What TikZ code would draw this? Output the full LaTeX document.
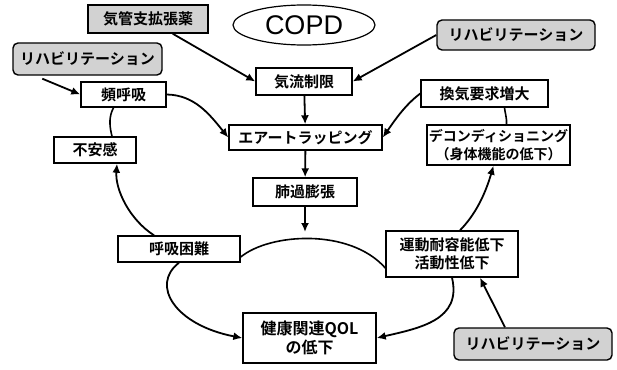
\documentclass[tikz,border=0pt]{standalone}
\usepackage{fontspec}
\setmainfont{Noto Sans CJK JP}[BoldFont={* Bold}]
\newfontfamily\latinfont{Liberation Sans}
\usetikzlibrary{arrows.meta,shapes.geometric}

\tikzset{
  box/.style={draw,line width=1.4pt,inner sep=0pt,align=center,font=\bfseries\fontsize{15}{18}\selectfont},
  rehab/.style={box,rounded corners=5pt,fill=gray!35},
  arr/.style={-{Latex[length=9pt,width=8pt]},line width=1.8pt},
  link/.style={line width=1.6pt}
}

\begin{document}
\begin{tikzpicture}[x=1pt,y=-1pt]
  \useasboundingbox (0,0) rectangle (617,369);
  % top row
  \node[box,fill=gray!35,minimum width=120pt,minimum height=28pt] (drug) at (148,19) {気管支拡張薬};
  \node[draw,ellipse,line width=1.2pt,minimum width=142pt,minimum height=40pt,inner sep=0pt,font=\latinfont\fontsize{27}{30}\selectfont] (copd) at (304,25) {COPD};
  \node[rehab,minimum width=149pt,minimum height=32pt] (rehabA) at (87.5,59) {リハビリテーション};
  \node[rehab,minimum width=158pt,minimum height=30pt] (rehabB) at (516,35) {リハビリテーション};
  % centre column
  \node[box,minimum width=96pt,minimum height=27pt] (airflow) at (304,81.5) {気流制限};
  \node[box,minimum width=153pt,minimum height=25pt] (trap) at (305.5,137.5) {エアートラッピング};
  \node[box,minimum width=104pt,minimum height=28pt] (hyper) at (305,192) {肺過膨張};
  % left side
  \node[box,minimum width=85pt,minimum height=25pt] (tachy) at (123.5,94.5) {頻呼吸};
  \node[box,minimum width=82pt,minimum height=26pt] (anxiety) at (95,150) {不安感};
  \node[box,minimum width=122pt,minimum height=26pt] (dysp) at (179,249) {呼吸困難};
  % right side
  \node[box,minimum width=127pt,minimum height=27pt] (vent) at (484.5,93.5) {換気要求増大};
  \node[box,minimum width=143pt,minimum height=40pt,font=\bfseries\fontsize{14}{18}\selectfont] (decon) at (498.5,145) {デコンディショニング\\（身体機能の低下）};
  \node[box,minimum width=132pt,minimum height=46pt] (exer) at (452,254) {運動耐容能低下\\活動性低下};
  % bottom
  \node[box,minimum width=133pt,minimum height=50pt,font=\bfseries\fontsize{16}{19}\selectfont] (qol) at (309.5,338) {健康関連QOL\\の低下};
  \node[rehab,minimum width=158pt,minimum height=32pt] (rehabC) at (533,344) {リハビリテーション};

  \coordinate (join) at (305,232);

  % straight arrows
  \draw[arr] ([xshift=-36pt]drug.south east) -- (airflow.west);
  \draw[arr] (rehabB.west) -- (airflow.east);
  \draw[arr] ([shift={(30pt,-3pt)}]rehabA.south west) -- (tachy.west);
  \draw[arr] (airflow) -- (trap);
  \draw[arr] (trap) -- (hyper);
  \draw[arr] (hyper) -- (join);
  \draw[arr] ([xshift=-28pt]rehabC.north) -- ([xshift=28pt]exer.south);
  % curved arrows
  \draw[arr] (tachy.east) .. controls (195,95) and (210,115) .. (trap.west);
  \draw[arr] (vent.west) .. controls (405,105) and (395,120) .. (trap.east);
  \draw[arr] ([xshift=-25pt]dysp.north) .. controls (130,220) and (115,190) .. ([xshift=22pt]anxiety.south);
  \draw[arr] ([xshift=8pt]exer.north) .. controls (475,215) and (485,195) .. ([xshift=-5pt]decon.south);
  \draw[arr] (dysp.south) .. controls (150,285) and (175,325) .. (qol.west);
  \draw[arr] (exer.south) .. controls (462,320) and (420,328) .. (qol.east);
  % plain links
  \draw[link] ([xshift=-10pt]tachy.south) .. controls (108,118) and (110,128) .. ([xshift=17pt]anxiety.north);
  \draw[link] ([xshift=20pt]vent.south) .. controls (505,113) and (507,118) .. ([xshift=8pt]decon.north);
  \draw[link] ([yshift=-8pt]dysp.east) .. controls (270,233) and (350,228) .. ([yshift=-14pt]exer.west);
\end{tikzpicture}
\end{document}
